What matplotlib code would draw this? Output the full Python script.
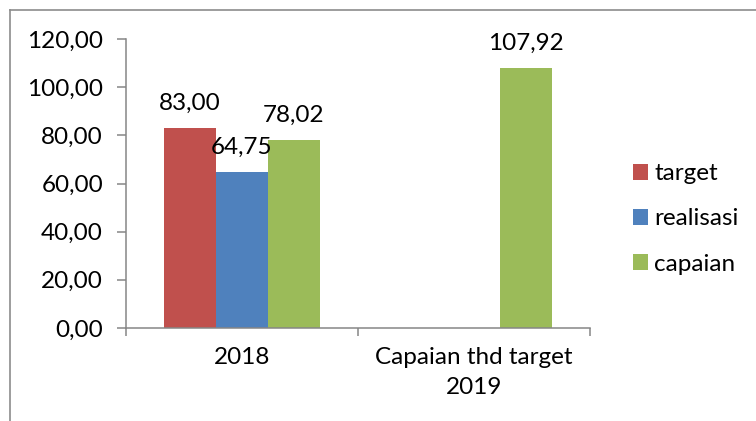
import numpy as np
import matplotlib
matplotlib.use("Agg")
import matplotlib.pyplot as plt
from matplotlib.lines import Line2D

plt.rcParams["font.family"] = ["Lato", "DejaVu Sans"]

categories = ["2018", "Capaian thd target\n2019"]
series = ["target", "realisasi", "capaian"]
target = [83.00, np.nan]
realisasi = [64.75, np.nan]
capaian = [78.02, 107.92]
colors = ["#C0504D", "#4F81BD", "#9BBB59"]
yticks = [0, 20, 40, 60, 80, 100, 120]

fs = 17.5

fig = plt.figure(figsize=(7.56, 4.21), dpi=100)
ax = fig.add_axes([126/756, 1-328/421, (590-126)/756, (328-39)/421])

x = np.arange(len(categories))
w = 0.224
for i, (name, vals, c) in enumerate(zip(series, [target, realisasi, capaian], colors)):
    pos = x + (i-1)*w
    ax.bar(pos, vals, width=w, color=c, label=name, zorder=2)
    for p, v in zip(pos, vals):
        if not np.isnan(v):
            ax.annotate(f"{v:.2f}".replace(".", ","), (p, v), xytext=(0, 13),
                        textcoords="offset points", ha="center", va="baseline",
                        fontsize=fs)

ax.set_xlim(-0.5, 1.5)
ax.set_ylim(0, 120)
ax.set_yticks(yticks)
ax.set_yticklabels([f"{t:.2f}".replace(".", ",") for t in yticks], fontsize=fs)
ax.set_xticks(x)
ax.set_xticklabels(categories, fontsize=fs, linespacing=1.5)
ax.set_xticks([-0.5, 0.5, 1.5], minor=True)
ax.tick_params(axis="x", which="major", length=0, pad=14)
ax.tick_params(axis="x", which="minor", length=6, width=1.1, color="#868686", direction="out")
ax.tick_params(axis="y", length=6.5, width=1.1, color="#868686", pad=10)

for s in ["top", "right"]:
    ax.spines[s].set_visible(False)
for s in ["left", "bottom"]:
    ax.spines[s].set_color("#868686")
    ax.spines[s].set_linewidth(1.1)

fig.legend(loc="center left", bbox_to_anchor=(633/756, 1-219/421), frameon=False,
           fontsize=fs, handlelength=0.62, handleheight=0.62, handletextpad=0.25,
           labelspacing=1.0, borderpad=0, borderaxespad=0)

# outer chart border (only left and top fall inside the image)
fig.add_artist(Line2D([10/756, 10/756], [0, 1-10/421], color="#8c8c8c", lw=1.2, transform=fig.transFigure))
fig.add_artist(Line2D([10/756, 1], [1-10/421, 1-10/421], color="#8c8c8c", lw=1.2, transform=fig.transFigure))

fig.savefig("out.png", dpi=100)
